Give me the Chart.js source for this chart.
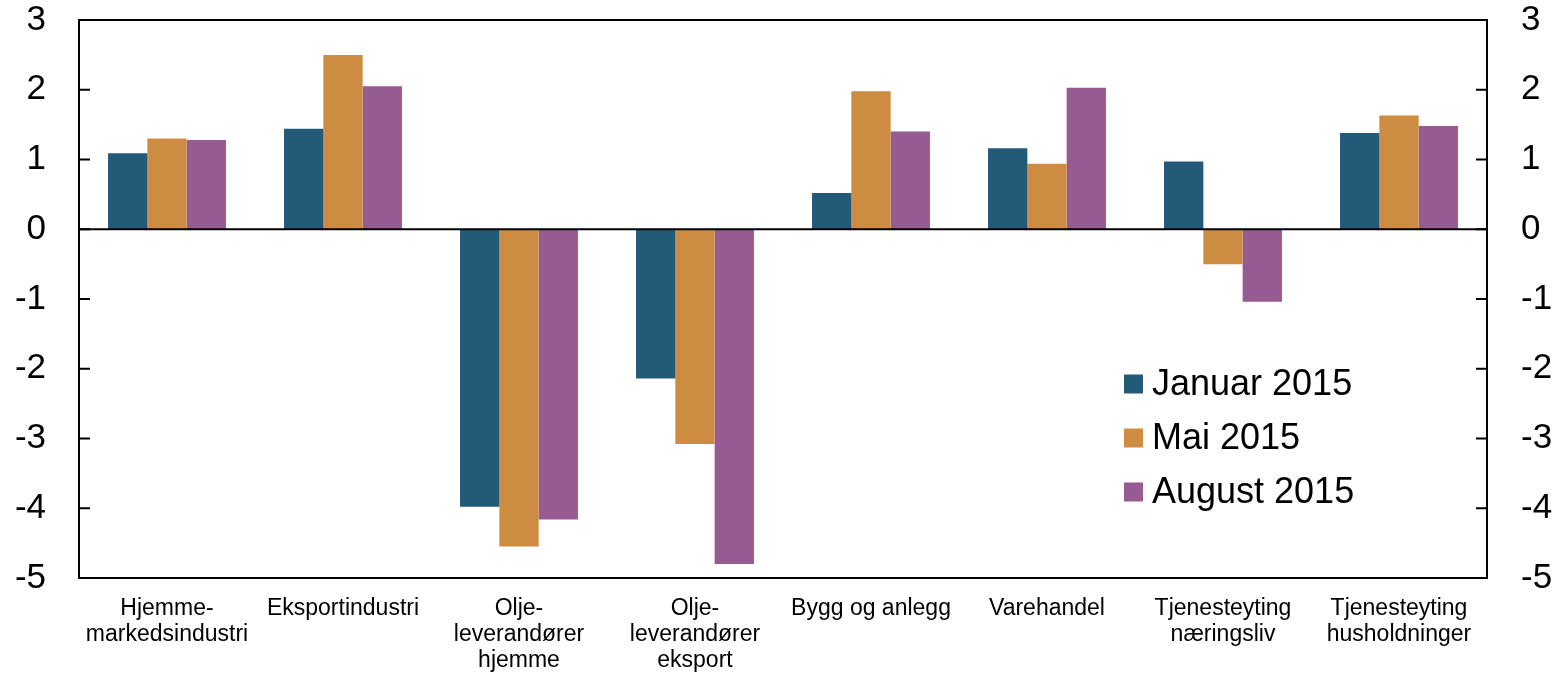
<!DOCTYPE html>
<html lang="no">
<head>
  <meta charset="UTF-8" />
  <title>Produksjonsutsikter etter næring</title>
  <script src="https://cdn.jsdelivr.net/npm/chart.js"></script>
  <style>
    html, body { margin: 0; padding: 0; background: #fff; }
    .chart-box { width: 1560px; height: 675px; position: relative; }
  </style>
</head>
<body>
  <div class="chart-box">
    <canvas id="chart"></canvas>
  </div>

  <script>
    // data lest av figuren
    const categories = [
      ['Hjemme-', 'markedsindustri'],
      'Eksportindustri',
      ['Olje-', 'leverandører', 'hjemme'],
      ['Olje-', 'leverandører', 'eksport'],
      'Bygg og anlegg',
      'Varehandel',
      ['Tjenesteyting', 'næringsliv'],
      ['Tjenesteyting', 'husholdninger']
    ];
    const seriesNames = ['Januar 2015', 'Mai 2015', 'August 2015'];
    const januar = [1.09, 1.44, -3.98, -2.14, 0.52, 1.16, 0.97, 1.38];
    const mai = [1.30, 2.50, -4.55, -3.08, 1.98, 0.94, -0.50, 1.63];
    const august = [1.28, 2.05, -4.16, -4.80, 1.40, 2.03, -1.04, 1.48];
    const yMin = -5;
    const yMax = 3;

    const colors = ['#225a78', '#ce8c42', '#975b94'];
    const font = 'Liberation Sans, Arial, sans-serif';

    // ramme, nullinje, tickmerker og forklaring
    const framePlugin = {
      id: 'frame',
      afterDatasetsDraw(chart) {
        const ctx = chart.ctx;
        const a = chart.chartArea;
        const y = chart.scales.y;
        ctx.save();
        ctx.strokeStyle = '#000';
        ctx.lineWidth = 2;
        ctx.strokeRect(a.left, a.top, a.right - a.left, a.bottom - a.top);

        const y0 = y.getPixelForValue(0);
        ctx.beginPath();
        ctx.moveTo(a.left, y0);
        ctx.lineTo(a.right, y0);
        ctx.stroke();

        y.ticks.forEach(t => {
          const py = y.getPixelForValue(t.value);
          ctx.beginPath();
          ctx.moveTo(a.left, py);
          ctx.lineTo(a.left + 11, py);
          ctx.moveTo(a.right - 11, py);
          ctx.lineTo(a.right, py);
          ctx.stroke();
        });

        ctx.font = '36px ' + font;
        ctx.textBaseline = 'middle';
        ctx.fillStyle = '#000';
        seriesNames.forEach((name, i) => {
          const cy = 384 + i * 54;
          ctx.fillStyle = colors[i];
          ctx.fillRect(1124, cy - 9.5, 19, 19);
          ctx.fillStyle = '#000';
          ctx.fillText(name, 1152, cy + 1);
        });
        ctx.restore();
      }
    };

    const noPad = s => { s.paddingTop = 0; s.paddingBottom = 0; s.paddingLeft = 0; s.paddingRight = 0; };

    new Chart(document.getElementById('chart'), {
      type: 'bar',
      data: {
        labels: categories,
        datasets: [
          { label: seriesNames[0], data: januar, backgroundColor: colors[0] },
          { label: seriesNames[1], data: mai, backgroundColor: colors[1] },
          { label: seriesNames[2], data: august, backgroundColor: colors[2] }
        ]
      },
      options: {
        responsive: true,
        maintainAspectRatio: false,
        animation: false,
        layout: { padding: { top: 20, left: 0, right: 0, bottom: 0 } },
        datasets: {
          bar: { categoryPercentage: 0.67, barPercentage: 1.0, borderWidth: 0 }
        },
        plugins: {
          legend: { display: false },
          tooltip: { enabled: false }
        },
        scales: {
          x: {
            grid: { display: false, drawTicks: false },
            border: { display: false },
            ticks: {
              color: '#000',
              font: { family: font, size: 23, lineHeight: 1.13 },
              padding: 18,
              maxRotation: 0,
              autoSkip: false
            },
            afterFit(s) { s.height = 97; noPad(s); }
          },
          y: {
            position: 'left',
            min: yMin,
            max: yMax,
            grid: { display: false, drawTicks: false },
            border: { display: false },
            ticks: {
              stepSize: 1,
              color: '#000',
              font: { family: font, size: 35 },
              padding: 33,
              callback: v => String(v)
            },
            afterFit(s) { s.width = 79; noPad(s); }
          },
          y2: {
            display: true,
            position: 'right',
            min: yMin,
            max: yMax,
            grid: { display: false, drawTicks: false },
            border: { display: false },
            ticks: {
              stepSize: 1,
              color: '#000',
              font: { family: font, size: 35 },
              padding: 34,
              callback: v => String(v)
            },
            afterFit(s) { s.width = 73; noPad(s); }
          }
        }
      },
      plugins: [framePlugin]
    });
  </script>
</body>
</html>
